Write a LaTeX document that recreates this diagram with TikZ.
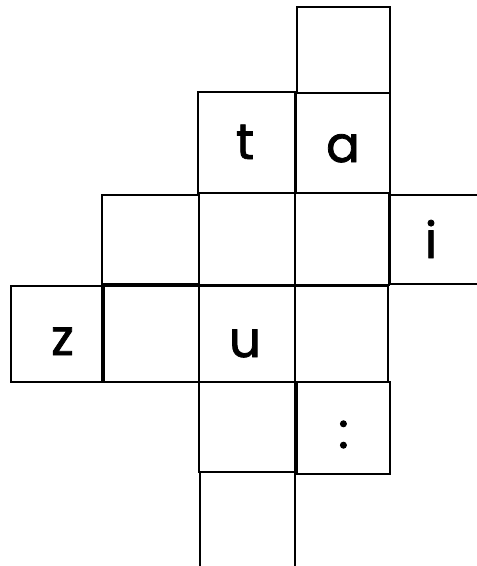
\documentclass[tikz,border=0pt]{standalone}
\usepackage{fontspec}
\setmainfont{Poppins}[FakeBold=1.6]
\begin{document}
\begin{tikzpicture}[x=1pt,y=-1pt,
  cell/.style={draw=black, line width=1.6pt, inner sep=0pt, font=\fontsize{50}{60}\selectfont, text depth=0pt}]
\clip (0,0) rectangle (477,566);
\fill[white] (0,0) rectangle (477,566);
% row 1
\node[cell, minimum width=93pt, minimum height=86pt] (top) at (343.5,50) {};
% row 2
\node[cell, minimum width=97pt, minimum height=101pt, text height=33pt] (t) at (246.5,142.5) {\hspace*{-3pt}t};
\node[cell, minimum width=94pt, minimum height=100pt, text height=38pt] (a) at (343,143) {a};
% row 3
\node[cell, minimum width=97pt, minimum height=89pt] (r3a) at (150.5,239.5) {};
\node[cell, minimum width=96pt, minimum height=92pt] (r3b) at (247,239) {};
\node[cell, minimum width=94pt, minimum height=92pt] (r3c) at (342,239) {};
\node[cell, minimum width=100pt, minimum height=89pt, text height=37pt] (i) at (440,239.5) {\hspace*{-18pt}i};
% row 4
\node[cell, minimum width=91pt, minimum height=96pt, text height=42pt] (z) at (56.5,334) {\hspace*{12pt}z};
\node[cell, minimum width=95pt, minimum height=96pt] (r4b) at (151.5,334) {};
\node[cell, minimum width=96pt, minimum height=96pt, text height=46pt] (u) at (247,334) {\hspace*{-4pt}u};
\node[cell, minimum width=93pt, minimum height=96pt] (r4d) at (341.5,334) {};
% row 5
\node[cell, minimum width=96pt, minimum height=90pt] (r5a) at (247,427) {};
\node[cell, minimum width=93pt, minimum height=92pt, text height=40pt] (colon) at (343.5,428) {:};
% row 6
\node[cell, minimum width=95pt, minimum height=100pt] (bot) at (247.5,522) {};
\end{tikzpicture}
\end{document}
